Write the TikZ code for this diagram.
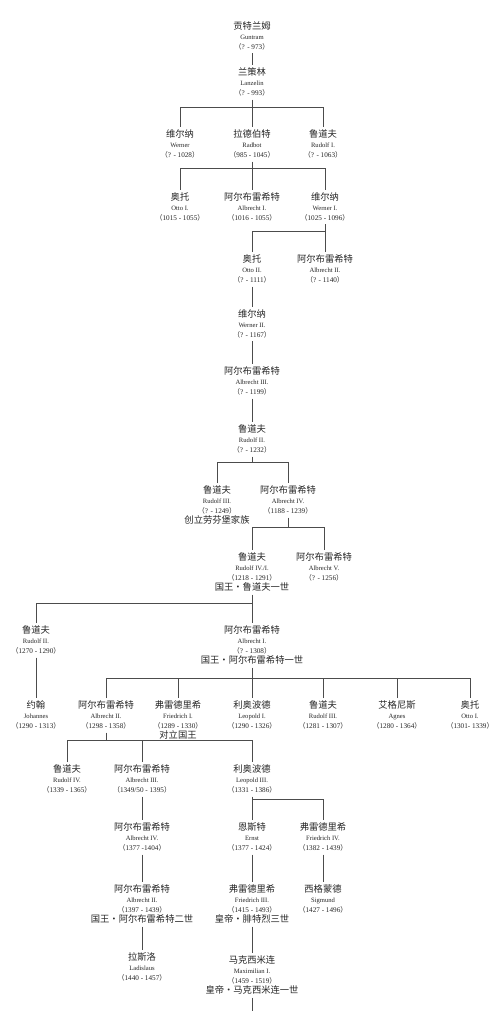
\documentclass[tikz,border=0pt]{standalone}
\usepackage{fontspec}
\setmainfont{Liberation Serif}
\newfontfamily\cjk{Noto Sans CJK SC}
\newcommand\zh[1]{{\cjk\fontsize{9.3}{10}\selectfont #1}}
\newcommand\la[1]{{\fontsize{6.6}{10}\selectfont #1}}
\newcommand\dt[1]{{\cjk\fontsize{7}{10}\selectfont （}{\fontsize{7.2}{10}\selectfont #1}{\cjk\fontsize{7}{10}\selectfont ）}}
\tikzset{
  person/.style={anchor=north, align=center, inner sep=0pt, outer ysep=3pt,
    font=\fontsize{6}{10}\selectfont, text=black!85},
  link/.style={draw=black!70, line width=0.8pt}
}
\begin{document}
\begin{tikzpicture}[x=1pt,y=-1pt]
\fill[white] (0,0) rectangle (500,1011);
\useasboundingbox (0,0) rectangle (500,1011);
% bar levels
\coordinate (b1) at (0,107);
\coordinate (b2) at (0,168);
\coordinate (b3) at (0,231);
\coordinate (b4) at (0,462);
\coordinate (b5) at (0,527);
\coordinate (b6) at (0,603);
\coordinate (b7) at (0,678);
\coordinate (b8) at (0,740);
\coordinate (b9) at (0,799);
\coordinate (bottom) at (252,1011);
% persons
\node[person] (g) at (252,19) {\zh{贡特兰姆}\\\la{Guntram}\\\dt{? - 973}};
\node[person] (l) at (252,65) {\zh{兰策林}\\\la{Lanzelin}\\\dt{? - 993}};
\node[person] (w) at (180,127) {\zh{维尔纳}\\\la{Werner}\\\dt{? - 1028}};
\node[person] (rb) at (252,127) {\zh{拉德伯特}\\\la{Radbot}\\\dt{985 - 1045}};
\node[person] (ra) at (323,127) {\zh{鲁道夫}\\\la{Rudolf I.}\\\dt{? - 1063}};
\node[person] (o1) at (180,190) {\zh{奥托}\\\la{Otto I.}\\\dt{1015 - 1055}};
\node[person] (a1) at (252,190) {\zh{阿尔布雷希特}\\\la{Albrecht I.}\\\dt{1016 - 1055}};
\node[person] (w1) at (325,190) {\zh{维尔纳}\\\la{Werner I.}\\\dt{1025 - 1096}};
\node[person] (o2) at (252,252) {\zh{奥托}\\\la{Otto II.}\\\dt{? - 1111}};
\node[person] (a2) at (325,252) {\zh{阿尔布雷希特}\\\la{Albrecht II.}\\\dt{? - 1140}};
\node[person] (w2) at (252,307) {\zh{维尔纳}\\\la{Werner II.}\\\dt{? - 1167}};
\node[person] (a3) at (252,364) {\zh{阿尔布雷希特}\\\la{Albrecht III.}\\\dt{? - 1199}};
\node[person] (r2) at (252,422) {\zh{鲁道夫}\\\la{Rudolf II.}\\\dt{? - 1232}};
\node[person] (r3) at (217,483) {\zh{鲁道夫}\\\la{Rudolf III.}\\\dt{? - 1249}\\\zh{创立劳芬堡家族}};
\node[person] (a4) at (288,483) {\zh{阿尔布雷希特}\\\la{Albrecht IV.}\\\dt{1188 - 1239}};
\node[person] (r4) at (252,550) {\zh{鲁道夫}\\\la{Rudolf IV./I.}\\\dt{1218 - 1291}\\\zh{国王·鲁道夫一世}};
\node[person] (a5) at (324,550) {\zh{阿尔布雷希特}\\\la{Albrecht V.}\\\dt{? - 1256}};
\node[person] (rII) at (36,623) {\zh{鲁道夫}\\\la{Rudolf II.}\\\dt{1270 - 1290}};
\node[person] (aI) at (252,623) {\zh{阿尔布雷希特}\\\la{Albrecht I.}\\\dt{? - 1308}\\\zh{国王·阿尔布雷希特一世}};
\node[person] (jo) at (36,698) {\zh{约翰}\\\la{Johannes}\\\dt{1290 - 1313}};
\node[person] (aII) at (106,698) {\zh{阿尔布雷希特}\\\la{Albrecht II.}\\\dt{1298 - 1358}};
\node[person] (fI) at (178,698) {\zh{弗雷德里希}\\\la{Friedrich I.}\\\dt{1289 - 1330}\\\zh{对立国王}};
\node[person] (lI) at (252,698) {\zh{利奥波德}\\\la{Leopold I.}\\\dt{1290 - 1326}};
\node[person] (rIII) at (323,698) {\zh{鲁道夫}\\\la{Rudolf III.}\\\dt{1281 - 1307}};
\node[person] (ag) at (397,698) {\zh{艾格尼斯}\\\la{Agnes}\\\dt{1280 - 1364}};
\node[person] (oI) at (470,698) {\zh{奥托}\\\la{Otto I.}\\\dt{1301- 1339}};
\node[person] (rIV) at (67,762) {\zh{鲁道夫}\\\la{Rudolf IV.}\\\dt{1339 - 1365}};
\node[person] (aIII) at (142,762) {\zh{阿尔布雷希特}\\\la{Albrecht III.}\\\dt{1349/50 - 1395}};
\node[person] (lIII) at (252,762) {\zh{利奥波德}\\\la{Leopold III.}\\\dt{1331 - 1386}};
\node[person] (aIV) at (142,820) {\zh{阿尔布雷希特}\\\la{Albrecht IV.}\\\dt{1377 -1404}};
\node[person] (aII2) at (142,882) {\zh{阿尔布雷希特}\\\la{Albrecht II.}\\\dt{1397 - 1439}\\\zh{国王·阿尔布雷希特二世}};
\node[person] (las) at (142,950) {\zh{拉斯洛}\\\la{Ladislaus}\\\dt{1440 - 1457}};
\node[person] (er) at (252,820) {\zh{恩斯特}\\\la{Ernst}\\\dt{1377 - 1424}};
\node[person] (fIV) at (323,820) {\zh{弗雷德里希}\\\la{Friedrich IV.}\\\dt{1382 - 1439}};
\node[person] (fIII) at (252,882) {\zh{弗雷德里希}\\\la{Friedrich III.}\\\dt{1415 - 1493}\\\zh{皇帝·腓特烈三世}};
\node[person] (si) at (323,882) {\zh{西格蒙德}\\\la{Sigmund}\\\dt{1427 - 1496}};
\node[person] (mx) at (252,953) {\zh{马克西米连}\\\la{Maximilian I.}\\\dt{1459 - 1519}\\\zh{皇帝·马克西米连一世}};
% connectors
\draw[link] (g) -- (l);
\draw[link] (l) -- (rb);
\draw[link] (w.north) -- (w.north |- b1) -- (ra.north |- b1) -- (ra.north);
\draw[link] (rb) -- (a1);
\draw[link] (o1.north) -- (o1.north |- b2) -- (w1.north |- b2) -- (w1.north);
\draw[link] (w1) -- (a2);
\draw[link] (o2.north) -- (o2.north |- b3) -- (a2.north |- b3);
\draw[link] (o2) -- (w2);
\draw[link] (w2) -- (a3);
\draw[link] (a3) -- (r2);
\draw[link] (r2.south) -- (r2.south |- b4);
\draw[link] (r3.north) -- (r3.north |- b4) -- (a4.north |- b4) -- (a4.north);
\draw[link] (a4.south) -- (a4.south |- b5);
\draw[link] (r4.north) -- (r4.north |- b5) -- (a5.north |- b5) -- (a5.north);
\draw[link] (r4) -- (aI);
\draw[link] (rII.north) -- (rII.north |- b6) -- (aI.north |- b6);
\draw[link] (rII) -- (jo);
\draw[link] (aI) -- (lI);
\draw[link] (aII.north) -- (aII.north |- b7) -- (oI.north |- b7) -- (oI.north);
\draw[link] (fI.north) -- (fI.north |- b7);
\draw[link] (rIII.north) -- (rIII.north |- b7);
\draw[link] (ag.north) -- (ag.north |- b7);
\draw[link] (aII.south) -- (aII.south |- b8);
\draw[link] (rIV.north) -- (rIV.north |- b8) -- (lIII.north |- b8) -- (lIII.north);
\draw[link] (aIII.north) -- (aIII.north |- b8);
\draw[link] (aIII) -- (aIV);
\draw[link] (aIV) -- (aII2);
\draw[link] (aII2) -- (las);
\draw[link] (lIII) -- (er);
\draw[link] (er.north |- b9) -- (fIV.north |- b9) -- (fIV.north);
\draw[link] (er) -- (fIII);
\draw[link] (fIII) -- (mx);
\draw[link] (mx) -- (bottom);
\draw[link] (fIV) -- (si);
\end{tikzpicture}
\end{document}
